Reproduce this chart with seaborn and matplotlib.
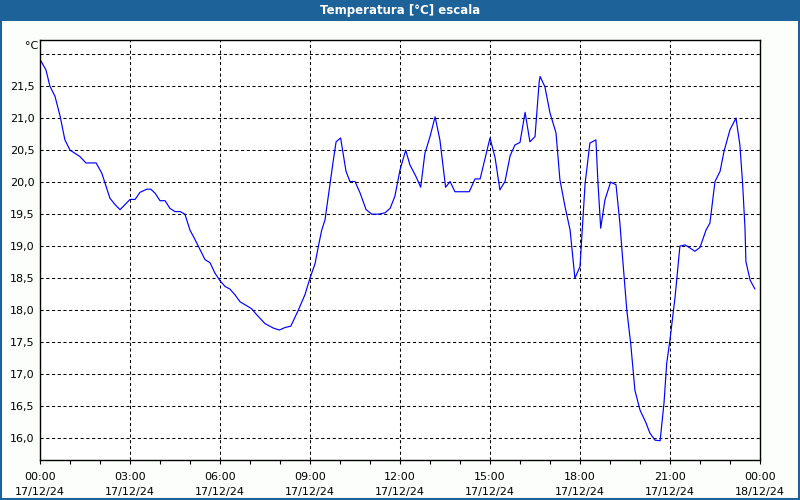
import matplotlib
matplotlib.use("Agg")
import matplotlib.pyplot as plt
import matplotlib.dates as mdates
from matplotlib.patches import Rectangle
import seaborn as sns
import pandas as pd
import numpy as np

title = "Temperatura [°C] escala"
unit_label = "°C"

# time offsets in hours since 17/12/24 00:00
hours = [0.0, 0.2, 0.33, 0.5, 0.67, 0.83, 1.0, 1.33, 1.53, 1.87, 2.06, 2.33, 2.5, 2.67,
         3.0, 3.17, 3.33, 3.56, 3.69, 3.83, 4.0, 4.17, 4.33, 4.5, 4.67, 4.83, 5.0, 5.17,
         5.5, 5.67, 5.83, 6.0, 6.17, 6.33, 6.5, 6.67, 6.89, 7.06, 7.22, 7.5, 7.78, 7.98,
         8.17, 8.36, 8.61, 8.83, 9.0, 9.17, 9.28, 9.39, 9.5, 9.67, 9.78, 9.87, 10.02,
         10.2, 10.33, 10.5, 10.67, 10.87, 11.06, 11.28, 11.5, 11.67, 11.83, 12.0, 12.19,
         12.33, 12.53, 12.69, 12.83, 13.0, 13.17, 13.33, 13.52, 13.67, 13.83, 14.31, 14.5,
         14.67, 15.0, 15.17, 15.33, 15.5, 15.67, 15.83, 16.0, 16.17, 16.33, 16.5, 16.64,
         16.67, 16.83, 17.0, 17.2, 17.33, 17.5, 17.67, 17.83, 18.0, 18.17, 18.33, 18.53,
         18.6, 18.69, 18.83, 19.02, 19.2, 19.33, 19.39, 19.56, 19.69, 19.83, 20.0, 20.2,
         20.33, 20.5, 20.67, 20.8, 20.89, 21.0, 21.17, 21.33, 21.5, 21.67, 21.83, 22.0,
         22.2, 22.33, 22.5, 22.67, 22.8, 23.0, 23.2, 23.33, 23.42, 23.5, 23.53, 23.67, 23.83]
temps = [21.92, 21.75, 21.5, 21.34, 21.03, 20.66, 20.5, 20.4, 20.3, 20.3, 20.14, 19.75, 19.65, 19.57,
         19.73, 19.73, 19.84, 19.89, 19.89, 19.83, 19.71, 19.71, 19.59, 19.54, 19.54, 19.5, 19.25, 19.1,
         18.79, 18.74, 18.58, 18.46, 18.37, 18.33, 18.24, 18.13, 18.07, 18.02, 17.93, 17.79, 17.72, 17.69,
         17.73, 17.75, 18.0, 18.24, 18.5, 18.73, 19.0, 19.25, 19.41, 19.98, 20.35, 20.63, 20.69,
         20.17, 20.01, 20.01, 19.83, 19.57, 19.5, 19.5, 19.52, 19.59, 19.78, 20.19, 20.5,
         20.27, 20.09, 19.92, 20.45, 20.71, 21.02, 20.66, 19.92, 20.01, 19.85, 19.85, 20.05,
         20.05, 20.69, 20.38, 19.88, 20.01, 20.41, 20.58, 20.62, 21.09, 20.63, 20.71, 21.57,
         21.65, 21.49, 21.08, 20.77, 20.04, 19.62, 19.25, 18.5, 18.68, 19.98, 20.61, 20.66,
         19.98, 19.28, 19.72, 20.0, 19.96, 19.36, 18.99, 18.0, 17.48, 16.75, 16.44, 16.24,
         16.08, 15.97, 15.96, 16.55, 17.17, 17.54, 18.21, 19.0, 19.02, 18.97, 18.92, 18.98,
         19.25, 19.36, 20.01, 20.17, 20.48, 20.82, 21.0, 20.58, 19.98, 19.28, 18.76, 18.47, 18.33]

y_ticks = [16.0, 16.5, 17.0, 17.5, 18.0, 18.5, 19.0, 19.5, 20.0, 20.5, 21.0, 21.5, 22.0]
x_tick_hours = [0, 3, 6, 9, 12, 15, 18, 21, 24]

start = pd.Timestamp("2024-12-17 00:00")
df = pd.DataFrame({"time": [start + pd.Timedelta(hours=h) for h in hours], "temp": temps})

sns.set_style("white")
plt.rcParams['font.family'] = ['DejaVu Sans']

fig = plt.figure(figsize=(8, 5), dpi=100)
fig.patch.set_facecolor("#fcfefc")
ax = fig.add_axes([40/800, 40/500, 720/800, 420/500])
ax.set_facecolor("white")

sns.lineplot(data=df, x="time", y="temp", ax=ax, color="#0000ff", linewidth=0.85)

ax.set_xlim(start, start + pd.Timedelta(hours=24))
ax.set_ylim(15.66, 22.22)

ax.set_yticks(y_ticks)
ax.set_yticklabels([("" if v == 22.0 else f"{v:.1f}".replace(".", ",")) for v in y_ticks], fontsize=8)
major = [start + pd.Timedelta(hours=h) for h in x_tick_hours]
ax.set_xticks(major)
ax.set_xticklabels([t.strftime("%H:%M") + "\n" + t.strftime("%d/%m/%y") for t in major],
                   fontsize=8, linespacing=1.6)
ax.set_xticks([start + pd.Timedelta(hours=h) for h in range(25) if h % 3 != 0], minor=True)
ax.tick_params(axis="x", which="both", direction="out", length=3, width=0.8, color="black",
               bottom=True, pad=6, labelcolor="black")
ax.tick_params(axis="y", length=0, pad=4, labelcolor="black")
ax.set_xlabel("")
ax.set_ylabel("")

ax.grid(True, which="major", color="black", linestyle=(0, (3, 2.5)), linewidth=0.75)
for s in ax.spines.values():
    s.set_color("black")
    s.set_linewidth(1.0)
    s.set_visible(True)

# title bar and frame
fig.patches.append(Rectangle((0, 1 - 20.5/500), 1, 20.5/500, transform=fig.transFigure,
                             facecolor="#1e629a", edgecolor="none", zorder=0))
fig.patches.append(Rectangle((0.001, 0.002), 0.998, 0.996, transform=fig.transFigure,
                             facecolor="none", edgecolor="#1e629a", linewidth=1.5, zorder=5))
fig.text(0.5, 1 - 10.5/500, title, ha="center", va="center", color="white",
         fontsize=8.5, fontweight="bold")
fig.text(32/800, 1 - 46/500, unit_label, ha="center", va="center", fontsize=8, color="black")

fig.savefig("out.png", dpi=100, facecolor=fig.get_facecolor())
